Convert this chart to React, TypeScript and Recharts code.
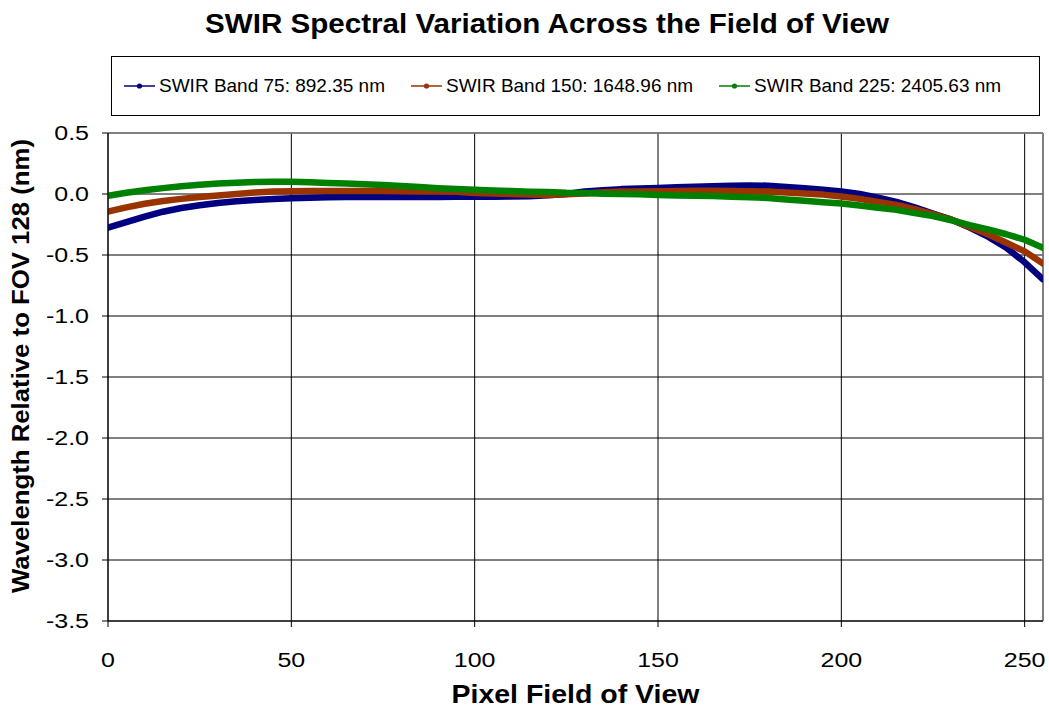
import React from 'react';
import { LineChart, Line, XAxis, YAxis, CartesianGrid, ReferenceLine, Legend, Customized } from 'recharts';

const pixelIndex = [0, 5, 10, 15, 20, 25, 30, 35, 40, 45, 50, 55, 60, 65, 70, 75, 80, 85, 90, 95, 100, 105, 110, 115, 120, 125, 130, 135, 140, 145, 150, 155, 160, 165, 170, 175, 180, 185, 190, 195, 200, 205, 210, 215, 220, 225, 230, 235, 240, 245, 250, 255];

const band75 = [-0.275, -0.23, -0.185, -0.145, -0.115, -0.092, -0.073, -0.06, -0.05, -0.041, -0.034, -0.03, -0.027, -0.025, -0.025, -0.025, -0.025, -0.025, -0.024, -0.023, -0.022, -0.022, -0.02, -0.018, -0.01, 0.0, 0.02, 0.03, 0.04, 0.045, 0.05, 0.055, 0.06, 0.063, 0.068, 0.07, 0.068, 0.058, 0.047, 0.035, 0.02, 0.0, -0.03, -0.065, -0.11, -0.16, -0.21, -0.275, -0.35, -0.44, -0.56, -0.7];

const band150 = [-0.145, -0.11, -0.08, -0.058, -0.04, -0.025, -0.012, 0.0, 0.012, 0.02, 0.023, 0.025, 0.025, 0.025, 0.025, 0.024, 0.022, 0.02, 0.02, 0.018, 0.008, 0.005, 0.0, -0.005, -0.008, -0.003, 0.005, 0.015, 0.02, 0.02, 0.022, 0.025, 0.027, 0.027, 0.025, 0.022, 0.02, 0.013, 0.005, -0.005, -0.02, -0.04, -0.065, -0.09, -0.125, -0.165, -0.21, -0.27, -0.33, -0.4, -0.47, -0.57];

const band225 = [-0.015, 0.01, 0.03, 0.048, 0.064, 0.076, 0.087, 0.093, 0.098, 0.1, 0.1, 0.097, 0.09, 0.086, 0.08, 0.074, 0.066, 0.057, 0.047, 0.04, 0.034, 0.028, 0.024, 0.019, 0.016, 0.01, 0.008, 0.003, 0.0, -0.002, -0.008, -0.012, -0.014, -0.016, -0.022, -0.027, -0.033, -0.045, -0.055, -0.067, -0.078, -0.095, -0.113, -0.13, -0.157, -0.18, -0.215, -0.255, -0.29, -0.33, -0.375, -0.44];

const xTicks = [0, 50, 100, 150, 200, 250];
const yTicks = [0.5, 0, -0.5, -1, -1.5, -2, -2.5, -3, -3.5];

const seriesKeys = ['b75', 'b150', 'b225'];
const seriesNames = ['SWIR Band 75: 892.35 nm', 'SWIR Band 150: 1648.96 nm', 'SWIR Band 225: 2405.63 nm'];
const seriesColors = ['#000080', '#993300', '#008000'];

const titleText = 'SWIR Spectral Variation Across the Field of View';
const xLabelText = 'Pixel Field of View';
const yLabelText = 'Wavelength Relative to FOV 128 (nm)';

const data = pixelIndex.map((p, i) => ({ p, b75: band75[i], b150: band150[i], b225: band225[i] }));

const FONT = '"Liberation Sans", Arial, sans-serif';

const legendOffsets = [12, 299, 607];

const LegendBox = () => (
  <div style={{ position: 'relative', width: 929, height: 60, border: '1px solid #000', boxSizing: 'border-box', fontFamily: FONT, background: '#fff' }}>
    {seriesNames.map((name, i) => (
      <div key={name} style={{ position: 'absolute', left: legendOffsets[i], top: 0, height: 58, display: 'flex', alignItems: 'center' }}>
        <svg width={31} height={10} style={{ display: 'block' }}>
          <line x1={0} y1={5} x2={31} y2={5} stroke={seriesColors[i]} strokeWidth={1.5} />
          <circle cx={15.5} cy={5} r={2.6} fill={seriesColors[i]} />
        </svg>
        <span style={{ marginLeft: 4, fontSize: 19, color: '#000', whiteSpace: 'nowrap' }}>{name}</span>
      </div>
    ))}
  </div>
);

const YTick = (props: any) => {
  const { x, y, payload } = props;
  return (
    <g transform={`translate(${x},${y})`}>
      <text transform="scale(1.25,1)" textAnchor="end" dy="0.36em" fontSize={20} fontFamily={FONT} fill="#000">
        {Number(payload.value).toFixed(1)}
      </text>
    </g>
  );
};

const XTick = (props: any) => {
  const { x, y, payload } = props;
  return (
    <g transform={`translate(${x},${y})`}>
      <text transform="scale(1.25,1)" textAnchor="middle" dy="0.71em" fontSize={20} fontFamily={FONT} fill="#000">
        {payload.value}
      </text>
    </g>
  );
};

const Texts = () => (
  <g>
    <text x={547} y={33} textAnchor="middle" fontFamily={FONT} fontWeight="bold" fontSize={27} fill="#000" textLength={684} lengthAdjust="spacingAndGlyphs">{titleText}</text>
    <text x={575.5} y={703} textAnchor="middle" fontFamily={FONT} fontWeight="bold" fontSize={26} fill="#000" textLength={248} lengthAdjust="spacingAndGlyphs">{xLabelText}</text>
    <text x={29} y={366} transform="rotate(-90, 29, 366)" textAnchor="middle" fontFamily={FONT} fontWeight="bold" fontSize={24} fill="#000" textLength={454} lengthAdjust="spacingAndGlyphs">{yLabelText}</text>
  </g>
);

export default function App() {
  return (
    <div style={{ position: 'absolute', left: 0, top: 0, width: 1049, height: 711, background: '#fff', fontFamily: FONT }}>
      <LineChart width={1049} height={711} data={data} margin={{ top: 133, right: 6, bottom: 0, left: 0 }}>
        <CartesianGrid stroke="#000" strokeWidth={1} />
        <XAxis
          dataKey="p"
          type="number"
          domain={[0, 255]}
          ticks={xTicks}
          height={90}
          tickSize={6}
          tickMargin={26}
          stroke="#000"
          tick={<XTick />}
          allowDataOverflow
        />
        <YAxis
          type="number"
          domain={[-3.5, 0.5]}
          ticks={yTicks}
          width={108}
          tickSize={6}
          tickMargin={13}
          stroke="#000"
          tick={<YTick />}
          allowDataOverflow
        />
        <ReferenceLine y={0.5} stroke="#808080" strokeWidth={1.5} />
        <ReferenceLine x={255} stroke="#808080" strokeWidth={1.5} />
        {seriesKeys.map((k, i) => (
          <Line
            key={k}
            dataKey={k}
            name={seriesNames[i]}
            type="linear"
            stroke={seriesColors[i]}
            strokeWidth={6.5}
            strokeLinecap="round"
            strokeLinejoin="round"
            dot={false}
            activeDot={false}
            isAnimationActive={false}
          />
        ))}
        <Legend
          layout="horizontal"
          verticalAlign="middle"
          align="center"
          content={() => <LegendBox />}
          wrapperStyle={{ position: 'absolute', left: 111, top: 56, width: 929, height: 60 }}
        />
        <Customized component={Texts} />
      </LineChart>
    </div>
  );
}
